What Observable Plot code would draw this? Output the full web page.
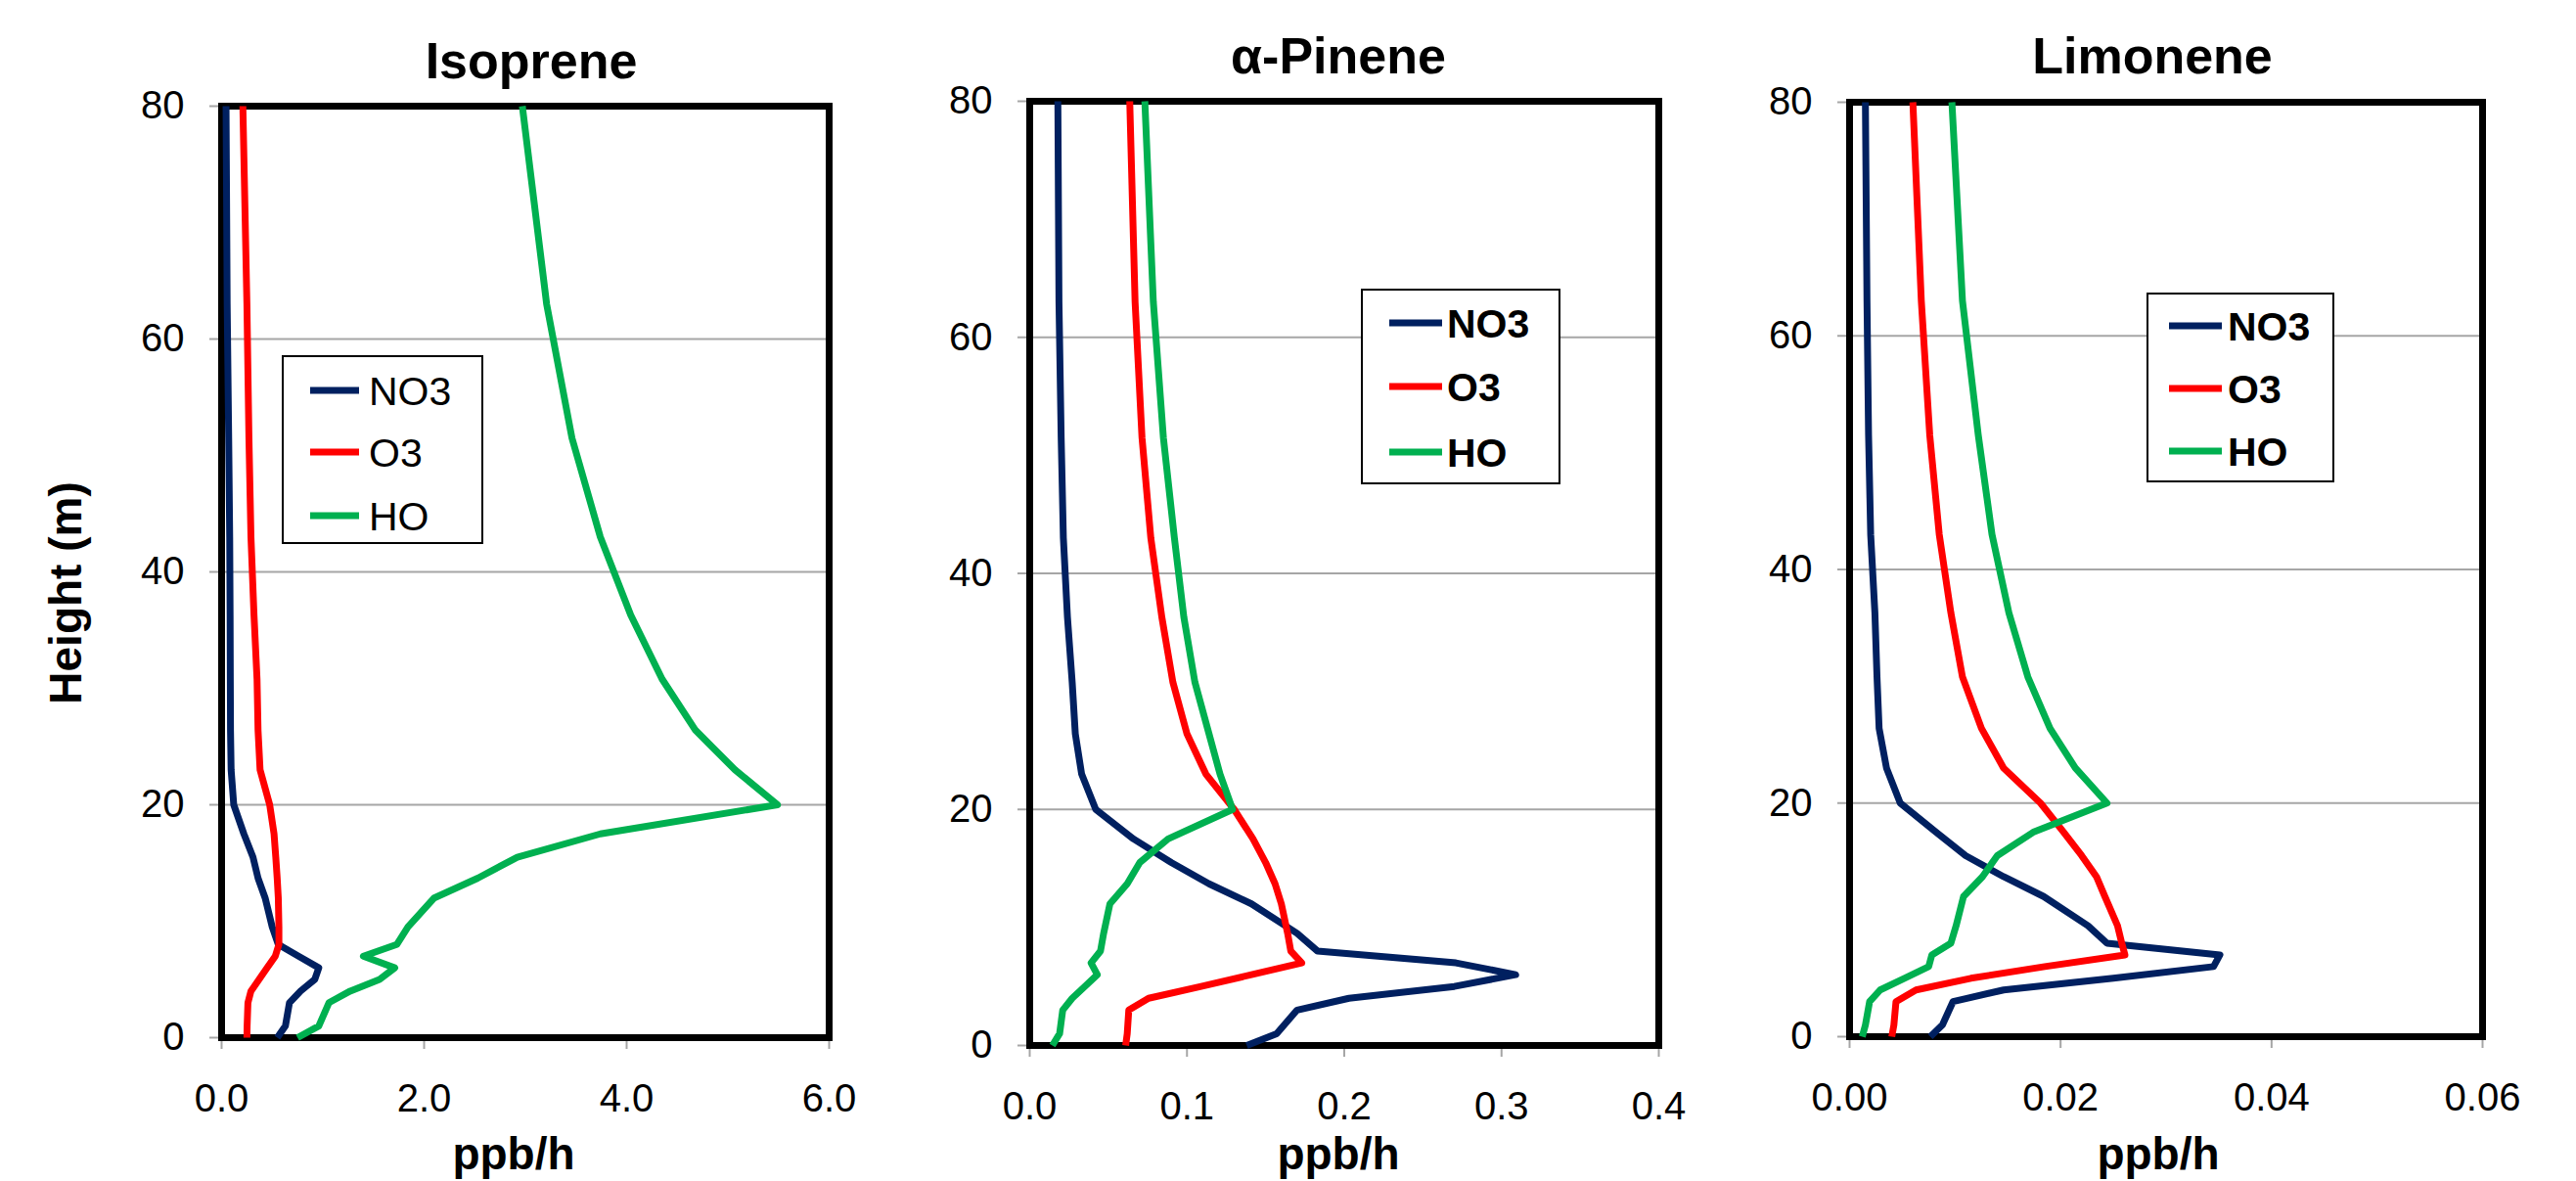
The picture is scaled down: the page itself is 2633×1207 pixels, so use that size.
<!DOCTYPE html>
<html>
<head>
<meta charset="utf-8">
<script src="https://cdn.jsdelivr.net/npm/d3@7"></script>
<script src="https://cdn.jsdelivr.net/npm/@observablehq/plot@0.6"></script>
<style>
  html, body { margin: 0; padding: 0; background: #fff; }
  #root { position: relative; width: 2633px; height: 1207px; overflow: hidden; background: #fff;
          font-family: "Liberation Sans", Arial, sans-serif; }
</style>
</head>
<body>
<div id="root"></div>
<script>
// ---------- data ----------
const heights = [0, 1, 3, 4, 5, 6, 7, 8, 9.5, 12, 13.7, 15.5, 17.5, 20, 23, 26.4, 30.8, 36.3, 43, 51.5, 63, 80];

const species = ["NO3", "O3", "HO"];
const seriesColors = ["#002060", "#FF0000", "#00B050"];

const isopreneNO3 = [0.55, 0.63, 0.67, 0.78, 0.92, 0.96, 0.76, 0.56, 0.50, 0.43, 0.36, 0.31, 0.22, 0.12, 0.094, 0.088, 0.086, 0.084, 0.08, 0.07, 0.055, 0.044];
const isopreneO3  = [0.25, 0.252, 0.26, 0.29, 0.37, 0.45, 0.53, 0.566, 0.566, 0.56, 0.549, 0.535, 0.518, 0.475, 0.38, 0.36, 0.35, 0.32, 0.29, 0.27, 0.25, 0.21];
const isopreneHO  = [0.75, 0.96, 1.06, 1.27, 1.56, 1.71, 1.40, 1.73, 1.84, 2.10, 2.53, 2.92, 3.74, 5.49, 5.07, 4.68, 4.35, 4.04, 3.74, 3.46, 3.21, 2.97];

const pineneNO3 = [0.138, 0.157, 0.170, 0.203, 0.270, 0.309, 0.271, 0.183, 0.170, 0.141, 0.114, 0.090, 0.066, 0.042, 0.033, 0.029, 0.027, 0.024, 0.0214, 0.020, 0.0186, 0.0179];
const pineneO3  = [0.061, 0.062, 0.063, 0.0756, 0.109, 0.141, 0.173, 0.166, 0.164, 0.160, 0.156, 0.150, 0.142, 0.130, 0.112, 0.100, 0.091, 0.084, 0.077, 0.0714, 0.067, 0.0636];
const pineneHO  = [0.0144, 0.019, 0.021, 0.027, 0.035, 0.043, 0.039, 0.045, 0.047, 0.051, 0.062, 0.070, 0.088, 0.129, 0.121, 0.114, 0.105, 0.098, 0.092, 0.085, 0.0786, 0.0732];

const limoneneNO3 = [0.00765, 0.0088, 0.0098, 0.0146, 0.025, 0.0345, 0.0351, 0.0244, 0.0226, 0.0184, 0.0146, 0.011, 0.0082, 0.0048, 0.0035, 0.0028, 0.0026, 0.0024, 0.0020, 0.0018, 0.00165, 0.0015];
const limoneneO3  = [0.0040, 0.0042, 0.0044, 0.0063, 0.0115, 0.0185, 0.0261, 0.0258, 0.0254, 0.0242, 0.0234, 0.0220, 0.0203, 0.0181, 0.0146, 0.0125, 0.0107, 0.0096, 0.0085, 0.0076, 0.0068, 0.0060];
const limoneneHO  = [0.0012, 0.0015, 0.0019, 0.0029, 0.0052, 0.0075, 0.0078, 0.0096, 0.0101, 0.0108, 0.0126, 0.0140, 0.0174, 0.0244, 0.0214, 0.0190, 0.0169, 0.0151, 0.0135, 0.0122, 0.0107, 0.0097];

const yTicks = [0, 20, 40, 60, 80];
const gridValues = [20, 40, 60];
const isopreneTicks = [0, 2, 4, 6];
const pineneTicks = [0, 0.1, 0.2, 0.3, 0.4];
const limoneneTicks = [0, 0.02, 0.04, 0.06];

const panelTitles = ["Isoprene", "\u03b1-Pinene", "Limonene"];
const yLabel = "Height (m)";
const xLabel = "ppb/h";

// ---------- layout ----------
const FONT = '"Liberation Sans", Arial, sans-serif';
const root = document.getElementById("root");

const panels = [
  { title: panelTitles[0], series: [isopreneNO3, isopreneO3, isopreneHO], domain: [0, 6], ticks: isopreneTicks, fmt: ".1f",
    left: 0, width: 880, mL: 226, mR: 33, mT: 108, mB: 147,
    titleX: 543, titleY: 80, xLabelX: 525,
    legend: { x: 289, y: 364, w: 204, h: 191, l0: 317, l1: 367, tx: 377, rows: [399, 462, 527], bold: false } },
  { title: panelTitles[1], series: [pineneNO3, pineneO3, pineneHO], domain: [0, 0.4], ticks: pineneTicks, fmt: ".1f",
    left: 880, width: 860, mL: 172, mR: 45, mT: 103, mB: 139,
    titleX: 1368, titleY: 75, xLabelX: 1368,
    legend: { x: 1392, y: 296, w: 202, h: 198, l0: 1420, l1: 1474, tx: 1479, rows: [330, 395, 462], bold: true } },
  { title: panelTitles[2], series: [limoneneNO3, limoneneO3, limoneneHO], domain: [0, 0.06], ticks: limoneneTicks, fmt: ".2f",
    left: 1740, width: 893, mL: 150, mR: 96, mT: 104, mB: 148,
    titleX: 2200, titleY: 75, xLabelX: 2206,
    legend: { x: 2195, y: 300, w: 190, h: 192, l0: 2217, l1: 2271, tx: 2277, rows: [333, 397, 461], bold: true } }
];

for (const p of panels) {
  const rows = [];
  p.series.forEach((vals, i) => vals.forEach((v, j) => rows.push({ species: species[i], value: v, height: heights[j] })));
  const chart = Plot.plot({
    width: p.width,
    height: 1207,
    marginLeft: p.mL, marginRight: p.mR, marginTop: p.mT, marginBottom: p.mB,
    style: { fontFamily: FONT, background: "transparent", overflow: "visible", color: "black" },
    x: { domain: p.domain },
    y: { domain: [0, 80] },
    color: { domain: species, range: seriesColors },
    marks: [
      Plot.ruleY(gridValues, { stroke: "#a6a6a6", strokeWidth: 2 }),
      Plot.axisY({ ticks: yTicks, tickSize: 12, tickPadding: 26, stroke: "#a6a6a6", strokeWidth: 2, fill: "black",
                   fontSize: 40, fontFamily: FONT, label: null, tickFormat: d3.format("d") }),
      Plot.axisX({ ticks: p.ticks, tickSize: 12, tickPadding: 35, stroke: "#a6a6a6", strokeWidth: 2, fill: "black",
                   fontSize: 40, fontFamily: FONT, label: null, tickFormat: d3.format(p.fmt) }),
      Plot.frame({ stroke: "black", strokeWidth: 7 }),
      Plot.line(rows, { x: "value", y: "height", z: "species", stroke: "species", strokeWidth: 7,
                        strokeLinejoin: "round", strokeLinecap: "butt" })
    ]
  });
  chart.style.position = "absolute";
  chart.style.left = p.left + "px";
  chart.style.top = "0px";
  root.appendChild(chart);
}

// ---------- overlay: titles, axis labels, legends ----------
const overlay = d3.select(root).append("svg")
  .attr("width", 2633).attr("height", 1207)
  .style("position", "absolute").style("left", "0px").style("top", "0px")
  .style("pointer-events", "none")
  .style("font-family", FONT);

for (const p of panels) {
  overlay.append("text").attr("x", p.titleX).attr("y", p.titleY)
    .attr("text-anchor", "middle").attr("font-weight", "bold").attr("font-size", 52)
    .text(p.title);
  overlay.append("text").attr("x", p.xLabelX).attr("y", 1195)
    .attr("text-anchor", "middle").attr("font-weight", "bold").attr("font-size", 46)
    .text(xLabel);
  const L = p.legend;
  overlay.append("rect").attr("x", L.x).attr("y", L.y).attr("width", L.w).attr("height", L.h)
    .attr("fill", "white").attr("stroke", "black").attr("stroke-width", 2);
  species.forEach((s, i) => {
    overlay.append("line").attr("x1", L.l0).attr("x2", L.l1).attr("y1", L.rows[i]).attr("y2", L.rows[i])
      .attr("stroke", seriesColors[i]).attr("stroke-width", 7);
    overlay.append("text").attr("x", L.tx).attr("y", L.rows[i]).attr("dy", "0.36em")
      .attr("font-size", 41).attr("font-weight", L.bold ? "bold" : "normal")
      .text(s);
  });
}

overlay.append("text")
  .attr("transform", "translate(83,606) rotate(-90)")
  .attr("text-anchor", "middle").attr("font-weight", "bold").attr("font-size", 46)
  .text(yLabel);
</script>
</body>
</html>
